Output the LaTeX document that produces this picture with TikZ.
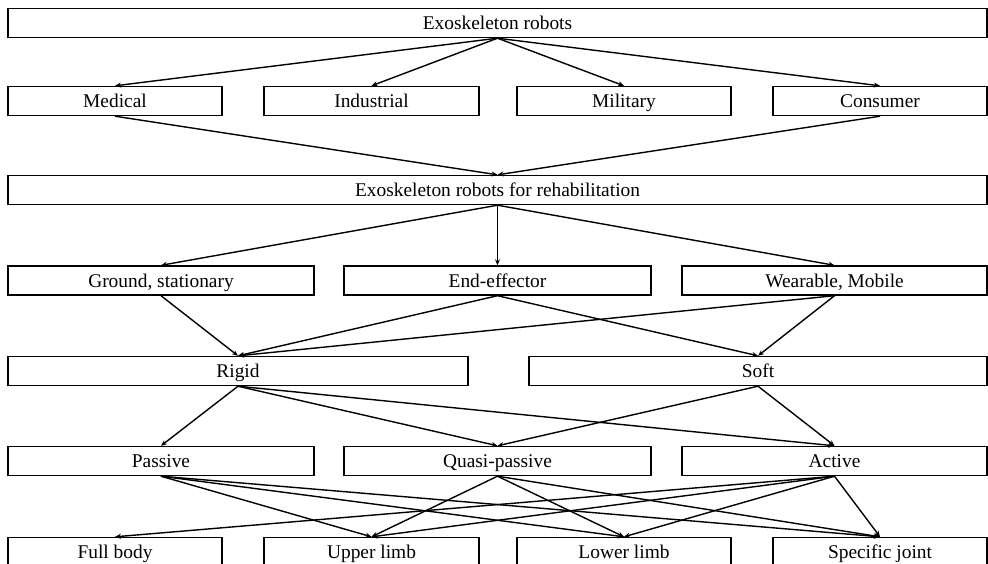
\documentclass[tikz,border=0pt]{standalone}
\usepackage{fontspec}
\setmainfont{Liberation Serif}
\usetikzlibrary{arrows.meta}
\begin{document}
\begin{tikzpicture}[x=1pt,y=-1pt,
  box/.style={draw, line width=1.4pt, inner sep=0pt, font=\fontsize{19.4}{22}\selectfont, minimum height=29pt, text height=15pt, text depth=2pt},
  arr/.style={line width=1.4pt, -{Stealth[length=6pt,width=5pt]}}]
\useasboundingbox[fill=white] (0,0) rectangle (988,563);
% rows
\node[box, minimum width=979pt] (top) at (497.5,23) {Exoskeleton robots};
\node[box, minimum width=214pt] (med) at (115,101) {Medical};
\node[box, minimum width=215pt] (ind) at (371.5,101) {Industrial};
\node[box, minimum width=214pt] (mil) at (624,101) {Military};
\node[box, minimum width=214pt] (con) at (880,101) {Consumer};
\node[box, minimum width=979pt] (reh) at (497.5,190) {Exoskeleton robots for rehabilitation};
\node[box, minimum width=306pt] (gro) at (161,280.5) {Ground, stationary};
\node[box, minimum width=307pt] (end) at (497.5,280.5) {End-effector};
\node[box, minimum width=305pt] (wea) at (834.5,280.5) {Wearable, Mobile};
\node[box, minimum width=460pt] (rig) at (238,371) {Rigid};
\node[box, minimum width=458pt] (sof) at (758,371) {Soft};
\node[box, minimum width=306pt] (pas) at (161,461) {Passive};
\node[box, minimum width=307pt] (qua) at (497.5,461) {Quasi-passive};
\node[box, minimum width=305pt] (act) at (834.5,461) {Active};
\node[box, minimum width=214pt] (ful) at (115,552) {Full body};
\node[box, minimum width=215pt] (upp) at (371.5,552) {Upper limb};
\node[box, minimum width=214pt] (low) at (624,552) {Lower limb};
\node[box, minimum width=214pt] (spe) at (880,552) {Specific joint};
% arrows
\foreach \t in {med,ind,mil,con} \draw[arr] (top.south) -- (\t.north);
\draw[arr] (med.south) -- (reh.north);
\draw[arr] (con.south) -- (reh.north);
\foreach \t in {gro,end,wea} \draw[arr] (reh.south) -- (\t.north);
\foreach \s in {gro,end,wea} \draw[arr] (\s.south) -- (rig.north);
\foreach \s in {end,wea} \draw[arr] (\s.south) -- (sof.north);
\foreach \t in {pas,qua,act} \draw[arr] (rig.south) -- (\t.north);
\foreach \t in {qua,act} \draw[arr] (sof.south) -- (\t.north);
\foreach \t in {upp,low,spe} \draw[arr] (pas.south) -- (\t.north);
\foreach \t in {upp,low,spe} \draw[arr] (qua.south) -- (\t.north);
\foreach \t in {ful,upp,low,spe} \draw[arr] (act.south) -- (\t.north);
\end{tikzpicture}
\end{document}
